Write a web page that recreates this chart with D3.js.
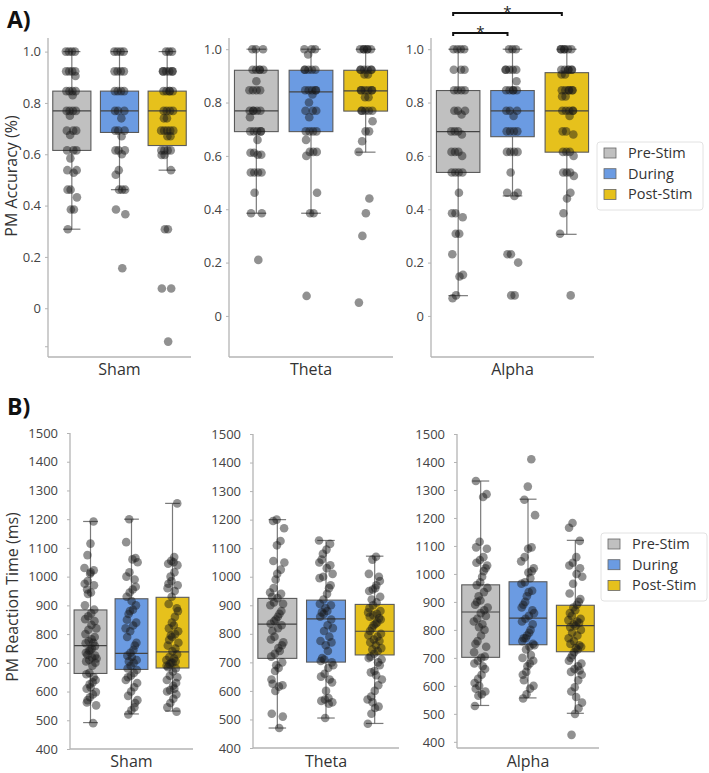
<!DOCTYPE html>
<html><head><meta charset="utf-8">
<script src="https://cdn.jsdelivr.net/npm/d3@7"></script>
<style>body{margin:0;background:#fff} text{font-family:"Open Sans",sans-serif}</style>
</head><body><svg id="c" width="709" height="773"></svg>
<script>
// ---------------- DATA ----------------
const conditions = ["Sham","Theta","Alpha"];
const phases = ["Pre-Stim","During","Post-Stim"];
const phaseColors = ["#c0c0c0","#6b9be2","#e6c11c"];

const accTicks = [0,0.2,0.4,0.6,0.8,1.0];
const accTickLabels = ["0","0.2","0.4","0.6","0.8","1.0"];
const rtTicks = [400,500,600,700,800,900,1000,1100,1200,1300,1400,1500];
const rtTickLabels = ["400","500","600","700","800","900","1000","1100","1200","1300","1400","1500"];

// y-axis extents per condition
const accDomains = [[-0.19,1.053],[-0.154,1.042],[-0.154,1.042]];
const rtDomains = [[400,1500],[400,1500],[378,1500]];

// box stats: [whisker low, q1, median, q3, whisker high]
const accBoxSham  = [[0.308,0.615,0.769,0.846,1.0],[0.462,0.685,0.769,0.846,1.0],[0.538,0.634,0.769,0.846,1.0]];
const accBoxTheta = [[0.385,0.691,0.769,0.921,1.0],[0.385,0.691,0.840,0.921,1.0],[0.614,0.768,0.844,0.921,1.0]];
const accBoxAlpha = [[0.076,0.538,0.691,0.845,1.0],[0.450,0.672,0.769,0.845,1.0],[0.306,0.614,0.769,0.912,1.0]];

const rtBoxSham  = [[492,663,760,884,1192],[522,677,733,923,1200],[532,682,738,928,1255]];
const rtBoxTheta = [[470,714,834,924,1200],[505,701,852,918,1127],[486,726,809,903,1072]];
const rtBoxAlpha = [[530,702,864,961,1332],[557,747,842,972,1267],[502,722,815,888,1120]];

// individual participant points
const accPtsSham = [
  [1,1,1,1,0.923,0.923,0.923,0.923,0.905,0.846,0.846,0.846,0.846,0.83,0.769,0.769,0.769,0.769,0.75,0.692,0.692,0.692,0.675,0.615,0.615,0.615,0.584,0.538,0.538,0.528,0.462,0.462,0.432,0.385,0.385,0.308],
  [1,1,1,1,0.923,0.923,0.923,0.923,0.846,0.846,0.846,0.846,0.769,0.769,0.769,0.74,0.692,0.692,0.692,0.67,0.615,0.615,0.615,0.6,0.538,0.52,0.462,0.462,0.462,0.385,0.366,0.156],
  [1,1,1,0.923,0.923,0.923,0.923,0.923,0.923,0.846,0.846,0.846,0.846,0.846,0.769,0.769,0.769,0.769,0.74,0.74,0.692,0.692,0.692,0.692,0.692,0.67,0.67,0.615,0.615,0.615,0.615,0.597,0.597,0.538,0.308,0.308,0.077,0.077,-0.13]
];
const accPtsTheta = [
  [1,1,1,0.923,0.923,0.923,0.923,0.923,0.88,0.846,0.846,0.846,0.846,0.769,0.769,0.769,0.769,0.769,0.745,0.692,0.692,0.692,0.692,0.692,0.66,0.612,0.612,0.604,0.604,0.538,0.538,0.538,0.538,0.462,0.385,0.385,0.21],
  [1,1,1,0.98,0.923,0.923,0.923,0.923,0.923,0.846,0.846,0.846,0.846,0.846,0.83,0.8,0.769,0.769,0.769,0.745,0.692,0.692,0.692,0.692,0.66,0.615,0.615,0.615,0.6,0.462,0.385,0.385,0.075],
  [1,1,1,1,1,1,0.923,0.923,0.923,0.923,0.923,0.923,0.905,0.905,0.846,0.846,0.846,0.846,0.846,0.846,0.82,0.82,0.769,0.769,0.769,0.769,0.769,0.73,0.692,0.692,0.655,0.615,0.44,0.385,0.3,0.05]
];
const accPtsAlpha = [
  [1,1,1,1,0.923,0.923,0.923,0.846,0.846,0.846,0.846,0.769,0.769,0.769,0.755,0.692,0.692,0.692,0.68,0.615,0.615,0.615,0.6,0.538,0.538,0.538,0.538,0.462,0.385,0.385,0.37,0.308,0.308,0.231,0.154,0.148,0.077,0.066],
  [1,1,1,0.923,0.923,0.923,0.923,0.923,0.88,0.846,0.846,0.846,0.846,0.846,0.769,0.769,0.769,0.75,0.692,0.692,0.692,0.692,0.615,0.615,0.615,0.615,0.538,0.462,0.462,0.45,0.231,0.231,0.2,0.077,0.077],
  [1,1,1,1,1,1,0.923,0.923,0.923,0.923,0.923,0.923,0.905,0.905,0.846,0.846,0.846,0.846,0.846,0.846,0.823,0.823,0.769,0.769,0.769,0.769,0.769,0.75,0.692,0.692,0.68,0.615,0.615,0.615,0.6,0.538,0.538,0.538,0.525,0.462,0.44,0.385,0.308,0.077]
];

const rtPtsSham = [
  [1192,1115,1075,1030,1022,1015,985,975,970,945,940,900,885,872,862,852,845,832,815,800,790,782,775,768,758,750,742,735,725,718,710,705,700,690,665,660,640,632,625,610,598,590,580,562,552,490,1010,955,820,770,745,728,715,650,615,570],
  [1200,1120,1065,1060,1015,1000,965,955,945,930,900,885,880,850,840,830,810,790,770,745,735,725,710,700,690,680,675,665,655,650,630,615,600,585,570,545,535,520,1050,990,915,870,820,760,720,705,640,560],
  [1255,1068,1055,1045,1040,1015,985,975,970,950,930,905,880,860,840,820,810,800,790,780,770,750,740,720,710,705,700,695,690,680,670,655,640,630,620,605,600,590,575,560,545,530,1050,1000,960,890,830,795,760,730,715,700,685,650,610]
];
const rtPtsTheta = [
  [1200,1195,1170,1125,1110,1055,1050,1025,1010,960,945,940,925,910,900,880,860,845,835,830,820,790,780,760,750,730,720,700,680,670,640,620,615,600,520,510,470,990,930,905,870,850,810,770,740,690,625],
  [1127,1115,1095,1080,1050,1040,1030,1000,995,970,940,920,905,900,880,870,860,850,830,810,775,770,740,710,705,700,680,660,650,630,575,570,565,560,555,505,1060,1010,960,890,875,820,790,760,715,690,640,600],
  [1070,1060,1010,985,970,955,950,930,910,900,890,880,870,865,860,850,840,830,810,800,790,780,770,750,740,730,720,710,700,670,665,640,620,600,580,570,545,540,520,485,1000,960,920,875,855,835,820,795,775,760,745,715,690,655,560]
];
const rtPtsAlpha = [
  [1332,1285,1275,1115,1095,1090,1060,1050,1040,1030,1010,970,960,950,935,905,900,880,870,860,840,830,800,780,760,720,705,700,690,680,660,640,625,610,580,570,565,528,1020,990,920,890,850,820,810,750,740,670,600,590],
  [1410,1312,1265,1210,1095,1090,1060,1045,1010,1005,970,965,940,935,900,880,870,850,840,830,820,790,770,760,750,740,730,700,690,680,650,640,600,590,570,555,1020,985,920,890,860,800,780,770,745,710,670,620],
  [1182,1165,1118,1060,1040,1030,1020,1000,965,930,910,890,880,860,840,830,820,810,800,780,760,750,740,730,720,700,680,670,660,650,640,620,595,580,540,520,500,425,990,900,870,850,835,825,815,790,770,745,735,710,690,655,560]
];

// ---------------- DRAW ----------------
const svg = d3.select("#c");

function jitter(i, k){ const f = ((i+1)*0.7548776662 + k*0.5698402910) % 1; return f - 0.5; }

function drawPanel(opt){
  const g = svg.append("g");
  const x = d3.scaleBand().domain(phases).range(opt.xr).padding(0);
  const y = d3.scaleLinear().domain(opt.domain).range(opt.yr);
  const bw = x.bandwidth()*0.8;
  // spines
  g.append("line").attr("x1",opt.xr[0]).attr("x2",opt.xr[0]).attr("y1",opt.yr[1]).attr("y2",opt.yr[0])
    .attr("stroke","#b4b4b4").attr("stroke-width",1.3);
  g.append("line").attr("x1",opt.xr[0]).attr("x2",opt.xr[1]).attr("y1",opt.yr[0]).attr("y2",opt.yr[0])
    .attr("stroke","#b4b4b4").attr("stroke-width",1.3);
  // y axis
  const ax = d3.axisLeft(y).tickValues(opt.ticks).tickFormat((d,i)=>opt.labels[i]).tickSize(3).tickPadding(opt.gap);
  const ag = g.append("g").attr("transform",`translate(${opt.xr[0]},0)`).call(ax);
  ag.select(".domain").remove();
  ag.selectAll(".tick line").attr("stroke","#b4b4b4");
  ag.selectAll(".tick text").attr("fill","#444").style("font-size","13px").style("font-family","'Open Sans',sans-serif");
  if(opt.extraTick!==undefined){
    g.append("line").attr("x1",opt.xr[0]-3).attr("x2",opt.xr[0]).attr("y1",y(opt.extraTick)).attr("y2",y(opt.extraTick)).attr("stroke","#b4b4b4");
  }
  // boxes
  phases.forEach((p,k)=>{
    const [lo,q1,md,q3,hi] = opt.boxes[k];
    const cx = x(p)+x.bandwidth()/2;
    const cw = bw*0.45;
    const c = "#5a5a5a";
    g.append("line").attr("x1",cx).attr("x2",cx).attr("y1",y(hi)).attr("y2",y(q3)).attr("stroke",c).attr("stroke-width",1.2).attr("opacity",0.8);
    g.append("line").attr("x1",cx).attr("x2",cx).attr("y1",y(q1)).attr("y2",y(lo)).attr("stroke",c).attr("stroke-width",1.2).attr("opacity",0.8);
    g.append("line").attr("x1",cx-cw/2).attr("x2",cx+cw/2).attr("y1",y(hi)).attr("y2",y(hi)).attr("stroke",c).attr("stroke-width",1.2).attr("opacity",0.8);
    g.append("line").attr("x1",cx-cw/2).attr("x2",cx+cw/2).attr("y1",y(lo)).attr("y2",y(lo)).attr("stroke",c).attr("stroke-width",1.2).attr("opacity",0.8);
    g.append("rect").attr("x",cx-bw/2).attr("y",y(q3)).attr("width",bw).attr("height",y(q1)-y(q3))
      .attr("fill",phaseColors[k]).attr("stroke",c).attr("stroke-width",1.1);
    g.append("line").attr("x1",cx-bw/2).attr("x2",cx+bw/2).attr("y1",y(md)).attr("y2",y(md)).attr("stroke","#444").attr("stroke-width",1.2);
  });
  // points
  phases.forEach((p,k)=>{
    const cx = x(p)+x.bandwidth()/2;
    const amp = x.bandwidth()*opt.jit;
    g.selectAll(null).data(opt.pts[k]).enter().append("circle")
      .attr("cx",(d,i)=>cx + jitter(i,k+opt.seed)*amp)
      .attr("cy",d=>y(d)).attr("r",4.3)
      .attr("fill","#1a1a1a").attr("fill-opacity",0.48);
  });
  // category label
  g.append("text").attr("x",(opt.xr[0]+opt.xr[1])/2).attr("y",opt.labelY).attr("text-anchor","middle")
    .attr("fill","#333").style("font-size","16px").text(opt.name);
  return {x,y};
}

function drawLegend(x0,y0){
  const g = svg.append("g").attr("transform",`translate(${x0},${y0})`);
  g.append("rect").attr("x",0).attr("y",0).attr("width",106).attr("height",68).attr("rx",3)
    .attr("fill","#fff").attr("stroke","#e2e2e2").attr("stroke-width",1);
  phases.forEach((p,k)=>{
    const cy = 11 + k*20.7;
    g.append("rect").attr("x",7).attr("y",cy-5).attr("width",12).attr("height",10)
      .attr("fill",phaseColors[k]).attr("stroke","#666").attr("stroke-width",0.8);
    g.append("text").attr("x",31).attr("y",cy+5).attr("fill","#333").style("font-size","14.5px").text(p);
  });
}

// Panel A
const accBoxes = [accBoxSham,accBoxTheta,accBoxAlpha];
const accPts = [accPtsSham,accPtsTheta,accPtsAlpha];
const aX = [[48,191],[229,393],[431,594]];
const aScales = conditions.map((c,i)=>drawPanel({xr:aX[i], yr:[357,38], domain:accDomains[i], ticks:accTicks, labels:accTickLabels,
  gap:4, boxes:accBoxes[i], pts:accPts[i], name:c, labelY:375, seed:i*3, jit:0.26, extraTick: i===0 ? -0.15 : undefined}));

// Panel B
const rtBoxes = [rtBoxSham,rtBoxTheta,rtBoxAlpha];
const rtPts = [rtPtsSham,rtPtsTheta,rtPtsAlpha];
const bX = [[70,193],[253,399],[457,599]];
const bY = [[749,433],[748,434],[748,434]];
conditions.forEach((c,i)=>drawPanel({xr:bX[i], yr:bY[i], domain:rtDomains[i], ticks:rtTicks, labels:rtTickLabels,
  gap:9, boxes:rtBoxes[i], pts:rtPts[i], name:c, labelY:767, seed:i*3+7, jit:0.3}));

// axis titles
svg.append("text").attr("transform","translate(17,176) rotate(-90)").attr("text-anchor","middle")
  .attr("fill","#333").style("font-size","16px").text("PM Accuracy (%)");
svg.append("text").attr("transform","translate(18,597) rotate(-90)").attr("text-anchor","middle")
  .attr("fill","#333").style("font-size","16px").text("PM Reaction Time (ms)");

// panel letters
svg.append("text").attr("x",7).attr("y",28).style("font-size","23px").style("font-weight","bold").attr("fill","#111").text("A)");
svg.append("text").attr("x",7).attr("y",415).style("font-size","23px").style("font-weight","bold").attr("fill","#111").text("B)");

// legends
drawLegend(597,142);
drawLegend(601,533);

// significance brackets (Alpha accuracy)
const ax_ = aScales[2].x;
const ctr = p => ax_(p)+ax_.bandwidth()/2 - 5;
function bracket(p1,p2,yy){
  const x1 = ctr(p1), x2 = ctr(p2);
  svg.append("path").attr("d",`M${x1},${yy+3}V${yy}H${x2}V${yy+3}`).attr("fill","none").attr("stroke","#111").attr("stroke-width",2);
  svg.append("text").attr("x",(x1+x2)/2).attr("y",yy+4).attr("text-anchor","middle").style("font-size","15px").attr("fill","#222").text("*");
}
bracket("Pre-Stim","During",33);
bracket("Pre-Stim","Post-Stim",13);
</script></body></html>
